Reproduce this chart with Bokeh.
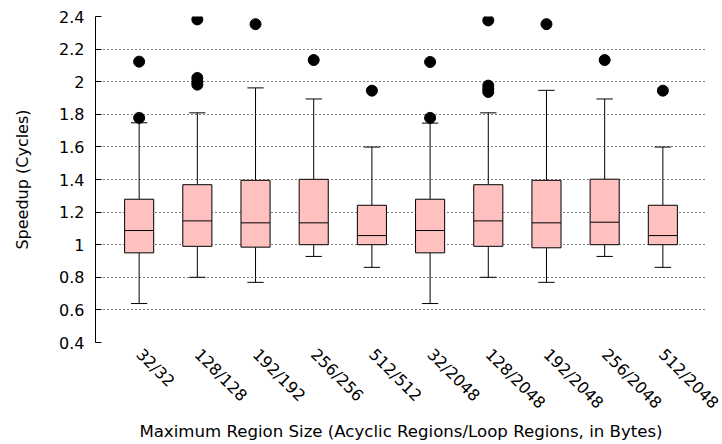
import math
from bokeh.plotting import figure
from bokeh.models import FixedTicker, ColumnDataSource, Range1d
from bokeh.embed import file_html
from bokeh.resources import INLINE

categories = ["32/32", "128/128", "192/192", "256/256", "512/512",
              "32/2048", "128/2048", "192/2048", "256/2048", "512/2048"]
q1 = [0.95, 0.99, 0.985, 1.0, 1.0, 0.95, 0.99, 0.981, 1.0, 1.0]
median = [1.087, 1.146, 1.134, 1.134, 1.056, 1.087, 1.146, 1.134, 1.138, 1.056]
q3 = [1.279, 1.368, 1.395, 1.401, 1.242, 1.279, 1.368, 1.395, 1.402, 1.242]
whisker_low = [0.639, 0.80, 0.769, 0.928, 0.861, 0.639, 0.80, 0.769, 0.928, 0.861]
whisker_high = [1.748, 1.809, 1.962, 1.894, 1.599, 1.746, 1.809, 1.947, 1.894, 1.599]
outliers = [[1.778, 2.123], [2.382, 2.023, 2.0, 1.982], [2.353], [2.133], [1.945],
            [1.778, 2.121], [2.376, 1.976, 1.955, 1.937], [2.353], [2.133], [1.945]]
y_ticks = [0.4, 0.6, 0.8, 1.0, 1.2, 1.4, 1.6, 1.8, 2.0, 2.2, 2.4]
y_tick_labels = ["0.4", "0.6", "0.8", "1", "1.2", "1.4", "1.6", "1.8", "2", "2.2", "2.4"]

FONT = "DejaVu Sans"
xs = list(range(1, len(categories) + 1))
box_w = 0.5
cap_w = 0.28

src = ColumnDataSource(dict(
    x=xs, q1=q1, med=median, q3=q3, lo=whisker_low, hi=whisker_high,
    xl=[x - box_w / 2 for x in xs], xr=[x + box_w / 2 for x in xs],
    cl=[x - cap_w / 2 for x in xs], cr=[x + cap_w / 2 for x in xs],
))

ox, oy = [], []
for x, vals in zip(xs, outliers):
    for v in vals:
        ox.append(x)
        oy.append(v)

p = figure(width=722, height=444, output_backend="svg", toolbar_location=None,
           x_range=Range1d(0.25, 10.75), y_range=Range1d(0.4, 2.4),
           min_border_left=95, min_border_right=16, min_border_top=16, min_border_bottom=101)
p.outline_line_color = None
p.background_fill_color = "white"

# grid
p.xgrid.visible = False
p.ygrid.ticker = FixedTicker(ticks=y_ticks)
p.ygrid.grid_line_color = "black"
p.ygrid.grid_line_dash = "1 3"
p.ygrid.grid_line_width = 1

# whiskers
p.segment(x0="x", y0="lo", x1="x", y1="q1", source=src, line_color="black", line_width=1)
p.segment(x0="x", y0="q3", x1="x", y1="hi", source=src, line_color="black", line_width=1)
p.segment(x0="cl", y0="lo", x1="cr", y1="lo", source=src, line_color="black", line_width=1)
p.segment(x0="cl", y0="hi", x1="cr", y1="hi", source=src, line_color="black", line_width=1)
# boxes
p.vbar(x="x", width=box_w, bottom="q1", top="q3", source=src,
       fill_color="#ffc0c0", line_color="black", line_width=1)
p.segment(x0="xl", y0="med", x1="xr", y1="med", source=src, line_color="black", line_width=1)
# outliers
p.scatter(ox, oy, size=11, marker="circle", fill_color="black", line_color="black")

# y axis
ya = p.yaxis[0]
ya.ticker = FixedTicker(ticks=y_ticks)
ya.major_label_overrides = {t: l for t, l in zip(y_ticks, y_tick_labels)}
ya.axis_label = "Speedup (Cycles)"
ya.axis_line_color = "black"
ya.major_tick_in = 6
ya.major_tick_out = 0
ya.minor_tick_line_color = None
ya.major_label_standoff = 11
ya.axis_label_standoff = 24

# x axis
xa = p.xaxis[0]
xa.ticker = FixedTicker(ticks=xs)
xa.major_label_overrides = {x: c for x, c in zip(xs, categories)}
xa.axis_label = "Maximum Region Size (Acyclic Regions/Loop Regions, in Bytes)"
xa.axis_line_color = None
xa.major_tick_line_color = None
xa.minor_tick_line_color = None
xa.major_label_orientation = -math.pi / 4
xa.major_label_standoff = 3
xa.axis_label_standoff = 0

for ax in (xa, ya):
    ax.major_label_text_font = FONT
    ax.major_label_text_font_size = "16px"
    ax.major_label_text_color = "black"
    ax.axis_label_text_font = FONT
    ax.axis_label_text_font_style = "normal"
    ax.axis_label_text_color = "black"
ya.axis_label_text_font_size = "16px"
xa.axis_label_text_font_size = "16.6px"

open("out.html", "w").write(file_html(p, INLINE))
